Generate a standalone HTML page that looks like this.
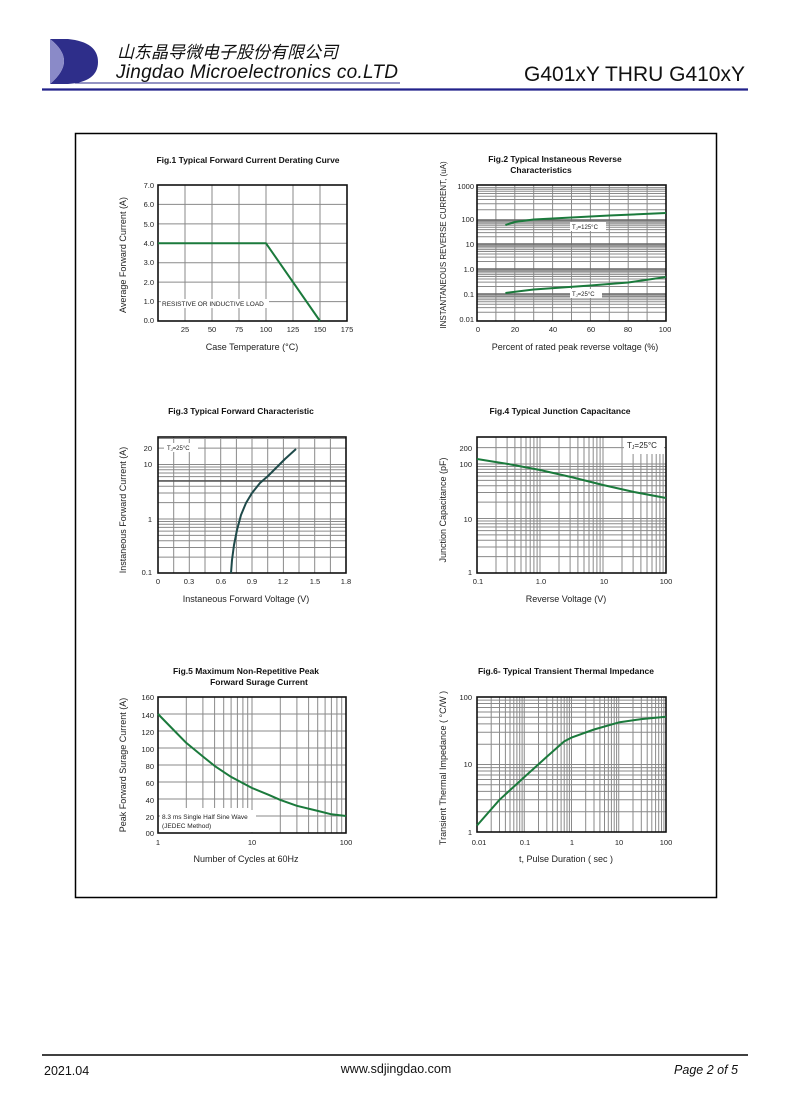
<!DOCTYPE html>
<html><head><meta charset="utf-8"><style>
html,body{margin:0;padding:0;background:#fff;}
svg{display:block;font-family:"Liberation Sans",Arial,sans-serif;}
</style></head><body>
<svg width="790" height="1117" viewBox="0 0 790 1117" xmlns="http://www.w3.org/2000/svg">
<rect width="790" height="1117" fill="#fff"/>
<!-- header -->
<path d="M50,39 L68,39 Q98,42 98,62 Q98,82 68,84 L50,84 Q64,72 64,61 Q64,50 50,39Z" fill="#2e2e8a"/>
<path d="M50,39 Q64,50 64,61 Q64,72 50,84 L50,39Z" fill="#8a8ac8"/>
<text x="117" y="58" font-size="17" font-style="italic" font-family="'Liberation Sans','Noto Sans CJK SC',sans-serif" fill="#111">山东晶导微电子股份有限公司</text>
<text x="116" y="78" font-size="19" font-style="italic" fill="#111" textLength="282">Jingdao Microelectronics co.LTD</text>
<line x1="75" y1="83" x2="400" y2="83" stroke="#2a2a8a" stroke-width="1"/>
<text x="745" y="81" font-size="21" text-anchor="end" fill="#111">G401xY  THRU  G410xY</text>
<line x1="42" y1="89.5" x2="748" y2="89.5" stroke="#22228a" stroke-width="2.2"/>
<rect x="75.5" y="133.5" width="641" height="764" fill="none" stroke="#000" stroke-width="1.5"/>
<!-- footer -->
<line x1="42" y1="1055" x2="748" y2="1055" stroke="#000" stroke-width="1.5"/>
<text x="44" y="1075" font-size="12.5" fill="#111">2021.04</text>
<text x="396" y="1073" font-size="12.5" text-anchor="middle" fill="#111">www.sdjingdao.com</text>
<text x="738" y="1074" font-size="12.5" font-style="italic" text-anchor="end" fill="#111">Page 2 of 5</text>

<g fill="none" stroke="#8a8a8a" stroke-width="1">
<!-- Fig1 grid -->
<path d="M185,185V321M212,185V321M239,185V321M266,185V321M293,185V321M320,185V321M158,301.6H347M158,282.1H347M158,262.7H347M158,243.3H347M158,223.9H347M158,204.4H347"/>
<!-- Fig2 grid -->
<path d="M495.9,185V321M514.8,185V321M533.7,185V321M552.6,185V321M571.5,185V321M590.4,185V321M609.3,185V321M628.2,185V321M647.1,185V321
M477,209.8H666M477,203.8H666M477,199.5H666M477,196.2H666M477,193.5H666M477,191.3H666M477,189.3H666M477,187.6H666
M477,236.8H666M477,232.6H666M477,229.6H666M477,227.2H666M477,225.3H666M477,223.7H666M477,222.3H666M477,221.1H666
M477,261.5H666M477,257.1H666M477,254H666M477,251.5H666M477,249.6H666M477,247.9H666M477,246.4H666M477,245.2H666
M477,286.5H666M477,282.1H666M477,279H666M477,276.5H666M477,274.6H666M477,272.9H666M477,271.4H666M477,270.2H666
M477,312.2H666M477,307.6H666M477,304.3H666M477,301.8H666M477,299.8H666M477,298H666M477,296.5H666M477,295.2H666"/>
<path d="M477,220H666M477,244H666M477,269H666M477,294H666" stroke="#666" stroke-width="1.6"/>
<!-- Fig3 grid -->
<path d="M173.7,437V573M189.3,437V573M205,437V573M220.7,437V573M236.4,437V573M252,437V573M267.7,437V573M283.4,437V573M299,437V573M314.7,437V573M330.4,437V573
M158,557.1H346M158,547.5H346M158,540.7H346M158,535.4H346M158,531.1H346M158,527.4H346M158,524.3H346M158,521.5H346M158,519H346
M158,502.6H346M158,493H346M158,486.2H346M158,476.6H346M158,473H346M158,469.8H346M158,467H346M158,464.5H346M158,448.1H346M158,438.5H346"/>
<path d="M158,480.9H346" stroke="#555" stroke-width="1.6"/>
<!-- Fig4 grid -->
<path d="M496,437V573M507.1,437V573M514.9,437V573M521,437V573M526,437V573M530.2,437V573M533.9,437V573M537.1,437V573M540,437V573
M559,437V573M570.1,437V573M577.9,437V573M584,437V573M589,437V573M593.2,437V573M596.9,437V573M600.1,437V573M603,437V573
M622,437V573M633.1,454V573M640.9,454V573M647,454V573M652,454V573M656.2,454V573M659.9,454V573M663.1,454V573
M477,556.6H666M477,547H666M477,540.2H666M477,534.9H666M477,530.6H666M477,527H666M477,523.8H666M477,521H666M477,518.5H666
M477,502.1H666M477,492.5H666M477,485.7H666M477,480.4H666M477,476.1H666M477,472.5H666M477,469.3H666M477,466.5H666M477,464H666M477,447.6H666"/>
<!-- Fig5 grid -->
<path d="M158,816H346M158,799H346M158,782H346M158,765H346M158,748H346M158,731H346M158,714H346
M186.3,697V808M202.9,697V808M214.6,697V808M223.7,697V808M231.1,697V808M237.4,697V808M242.9,697V808M247.7,697V808M252,697V833
M280.3,697V833M296.9,697V833M308.6,697V833M317.7,697V833M325.1,697V833M331.4,697V833M336.9,697V833M341.7,697V833
M258,816H346"/>
<!-- Fig6 grid -->
<path d="M491.2,697V832M499.5,697V832M505.4,697V832M510,697V832M513.8,697V832M516.9,697V832M519.7,697V832M522.1,697V832M524.25,697V832
M538.5,697V832M546.8,697V832M552.7,697V832M557.3,697V832M561.1,697V832M564.2,697V832M567,697V832M569.4,697V832M571.5,697V832
M585.7,697V832M594,697V832M599.9,697V832M604.5,697V832M608.3,697V832M611.4,697V832M614.2,697V832M616.6,697V832M618.75,697V832
M633,697V832M641.3,697V832M647.2,697V832M651.8,697V832M655.6,697V832M658.7,697V832M661.5,697V832M663.9,697V832
M477,811.7H666M477,799.8H666M477,791.4H666M477,784.8H666M477,779.5H666M477,775H666M477,771H666M477,767.6H666M477,764.5H666
M477,744.2H666M477,732.3H666M477,723.9H666M477,717.3H666M477,712H666M477,707.5H666M477,703.5H666M477,700.1H666"/>
</g>

<!-- labels inside plots -->
<g font-size="6.5" fill="#222">
<rect x="161" y="299" width="108" height="9" fill="#fff"/>
<text x="162" y="306">RESISTIVE OR INDUCTIVE LOAD</text>
<rect x="570" y="222" width="36" height="9" fill="#fff"/>
<text x="572" y="229" font-size="6">T<tspan font-size="4" dy="1">J</tspan><tspan dy="-1">=125°C</tspan></text>
<rect x="570" y="289" width="32" height="9" fill="#fff"/>
<text x="572" y="296" font-size="6">T<tspan font-size="4" dy="1">J</tspan><tspan dy="-1">=25°C</tspan></text>
<rect x="164" y="443" width="34" height="9" fill="#fff"/>
<text x="167" y="450" font-size="6">T<tspan font-size="4" dy="1">J</tspan><tspan dy="-1">=25°C</tspan></text>
<rect x="624" y="439" width="40" height="13" fill="#fff"/>
<text x="627" y="448" font-size="8">T<tspan font-size="5" dy="1">J</tspan><tspan dy="-1">=25°C</tspan></text>
<rect x="160" y="810" width="96" height="22" fill="#fff"/>
<text x="162" y="819">8.3 ms Single Half Sine Wave</text>
<text x="162" y="828">(JEDEC Method)</text>
</g>

<!-- frames -->
<g fill="none" stroke="#111" stroke-width="1.6">
<rect x="158" y="185" width="189" height="136"/>
<rect x="477" y="185" width="189" height="136"/>
<rect x="158" y="437" width="188" height="136"/>
<rect x="477" y="437" width="189" height="136"/>
<rect x="158" y="697" width="188" height="136"/>
<rect x="477" y="697" width="189" height="135"/>
</g>

<!-- curves -->
<g fill="none" stroke="#1b7a3c" stroke-width="2" stroke-linejoin="round">
<path d="M158,243.3L266,243.3L320,321"/>
<path d="M505.4,225L514.8,222L533.7,219.5L571.5,217.5L609.3,215.5L666,213"/>
<path d="M505.4,293L533.7,289.5L590.4,285.5L628.2,282.5L666,277"/>
<path d="M477,459L508,464L540,470L571,477L603,485L634,492L666,498"/>
<path d="M158,714L174.6,731L186.3,742.9L202.9,756.5L214.6,765.9L231.1,776.9L252,788L268.6,794.8L280.3,799.9L296.9,805.8L317.7,810.9L331.4,814.3L346,816"/>
<path d="M477,825.5L499.5,799.8L524.25,777.1L546.8,756.8L564.2,741.4L571.5,737.6L594,729.5L618.75,722.4L641.3,719.1L666,716.7"/>
<path d="M231,573L232,560L234,545L237,530L241,515L246,503L252,493L260,483L268,476L276,468L285,459L296,449" stroke="#1f4a4a"/>
</g>

<g font-size="8.5" font-weight="bold" fill="#111" text-anchor="middle">
<text x="248" y="163">Fig.1  Typical Forward Current Derating Curve</text>
<text x="555" y="162">Fig.2  Typical Instaneous Reverse</text>
<text x="541" y="173">Characteristics</text>
<text x="241" y="414">Fig.3  Typical Forward Characteristic</text>
<text x="560" y="414">Fig.4  Typical Junction Capacitance</text>
<text x="246" y="674">Fig.5  Maximum Non-Repetitive Peak</text>
<text x="259" y="685">Forward Surage Current</text>
<text x="566" y="674">Fig.6- Typical Transient Thermal Impedance</text>
</g>
<g font-size="9" fill="#222" text-anchor="middle">
<text x="252" y="350">Case Temperature (°C)</text>
<text x="575" y="350">Percent of rated peak reverse voltage  (%)</text>
<text x="246" y="602">Instaneous Forward Voltage (V)</text>
<text x="566" y="602">Reverse  Voltage (V)</text>
<text x="246" y="862">Number of Cycles at 60Hz</text>
<text x="566" y="862">t, Pulse Duration ( sec )</text>
<text transform="translate(126,255) rotate(-90)">Average Forward Current (A)</text>
<text transform="translate(126,510) rotate(-90)">Instaneous Forward Current  (A)</text>
<text transform="translate(126,765) rotate(-90)">Peak Forward Surage Current (A)</text>
<text transform="translate(446,510) rotate(-90)">Junction Capacitance (pF)</text>
<text transform="translate(446,768) rotate(-90)">Transient Thermal Impedance  ( °C/W )</text>
<text transform="translate(446,245) rotate(-90)" font-size="8">INSTANTANEOUS REVERSE CURRENT, (uA)</text>
</g>
<g font-size="7.5" fill="#222">
<g text-anchor="end">
<text x="154" y="188">7.0</text><text x="154" y="207">6.0</text><text x="154" y="227">5.0</text><text x="154" y="246">4.0</text><text x="154" y="265">3.0</text><text x="154" y="285">2.0</text><text x="154" y="304">1.0</text><text x="154" y="323">0.0</text>
<text x="474" y="189">1000</text><text x="474" y="222">100</text><text x="474" y="247">10</text><text x="474" y="272">1.0</text><text x="474" y="297">0.1</text><text x="474" y="322">0.01</text>
<text x="152" y="451">20</text><text x="152" y="467">10</text><text x="152" y="522">1</text><text x="152" y="575">0.1</text>
<text x="472" y="451">200</text><text x="472" y="467">100</text><text x="472" y="522">10</text><text x="472" y="575">1</text>
<text x="154" y="700">160</text><text x="154" y="718">140</text><text x="154" y="735">120</text><text x="154" y="752">100</text><text x="154" y="769">80</text><text x="154" y="786">60</text><text x="154" y="803">40</text><text x="154" y="820">20</text><text x="154" y="836">00</text>
<text x="472" y="700">100</text><text x="472" y="767">10</text><text x="472" y="835">1</text>
</g>
<g text-anchor="middle">
<text x="185" y="332">25</text><text x="212" y="332">50</text><text x="239" y="332">75</text><text x="266" y="332">100</text><text x="293" y="332">125</text><text x="320" y="332">150</text><text x="347" y="332">175</text>
<text x="478" y="332">0</text><text x="515" y="332">20</text><text x="553" y="332">40</text><text x="591" y="332">60</text><text x="628" y="332">80</text><text x="665" y="332">100</text>
<text x="158" y="584">0</text><text x="189" y="584">0.3</text><text x="221" y="584">0.6</text><text x="252" y="584">0.9</text><text x="283" y="584">1.2</text><text x="315" y="584">1.5</text><text x="346" y="584">1.8</text>
<text x="478" y="584">0.1</text><text x="541" y="584">1.0</text><text x="604" y="584">10</text><text x="666" y="584">100</text>
<text x="158" y="845">1</text><text x="252" y="845">10</text><text x="346" y="845">100</text>
<text x="479" y="845">0.01</text><text x="525" y="845">0.1</text><text x="572" y="845">1</text><text x="619" y="845">10</text><text x="666" y="845">100</text>
</g>
</g>
</svg>
</body></html>
